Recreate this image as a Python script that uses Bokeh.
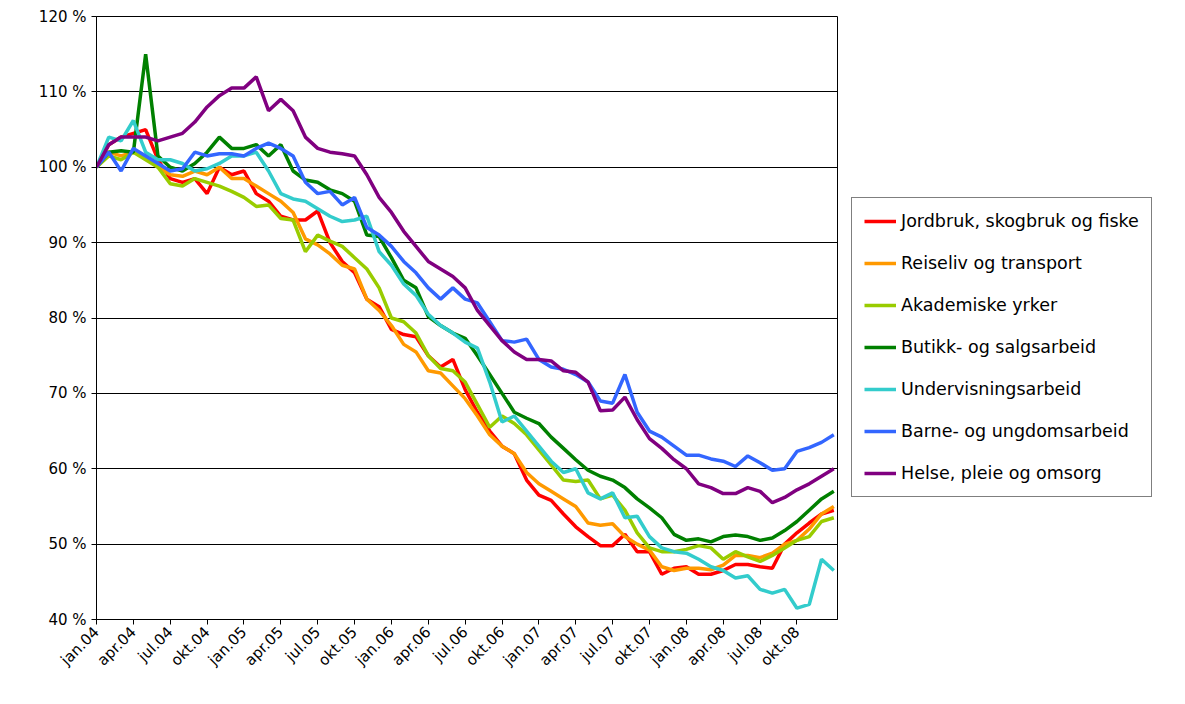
import math
from bokeh.plotting import figure
from bokeh.models import Legend, LegendItem, FixedTicker, PrintfTickFormatter
from bokeh.embed import file_html
from bokeh.resources import INLINE

months = list(range(61))
tick_labels = ["jan.04", "apr.04", "jul.04", "okt.04", "jan.05", "apr.05", "jul.05", "okt.05",
               "jan.06", "apr.06", "jul.06", "okt.06", "jan.07", "apr.07", "jul.07", "okt.07",
               "jan.08", "apr.08", "jul.08", "okt.08"]

jordbruk = [100, 103, 104, 104.5, 105, 101, 98.5, 98, 98.5, 96.5, 100, 99, 99.5, 96.5, 95.5, 93.5,
            93, 93, 94.2, 90, 87.5, 86, 82.5, 81.5, 78.5, 77.8, 77.5, 75, 73.5, 74.5, 70.5, 67.5,
            65, 63, 62, 58.5, 56.5, 55.8, 54, 52.3, 51, 49.8, 49.8, 51.3, 49, 49, 46, 46.8, 47,
            46, 46, 46.5, 47.3, 47.3, 47, 46.8, 50, 51.5, 52.8, 54, 54.5]
reiseliv = [100, 102, 101.5, 102, 101.5, 100, 99, 98.8, 99.5, 99, 100, 98.5, 98.5, 97.5, 96.5, 95.5,
            94, 90.5, 89.7, 88.5, 87, 86.5, 82.5, 81, 79, 76.5, 75.5, 73, 72.7, 71, 69.3, 67,
            64.5, 63, 62, 59.5, 58, 57, 56, 55, 52.8, 52.5, 52.7, 51, 50, 49.2, 47, 46.5, 46.8,
            46.8, 46.6, 47.2, 48.5, 48.5, 48.2, 48.8, 50, 50.5, 52, 54, 55]
akademiske = [100, 101.5, 101, 102, 101, 100, 97.8, 97.5, 98.5, 98, 97.5, 96.8, 96, 94.8, 95, 93.2,
              93, 88.8, 91, 90.2, 89.5, 88, 86.5, 84, 80, 79.5, 78, 75, 73.3, 73, 71.5, 68.5,
              65.5, 67, 66, 64.5, 62.5, 60.5, 58.5, 58.3, 58.5, 56, 56.5, 54.5, 51.5, 49.5, 49,
              49, 49.3, 49.8, 49.5, 48, 49, 48.3, 47.7, 48.5, 49.5, 50.5, 51, 53, 53.5]
butikk = [100, 102, 102.2, 102, 115, 101.5, 100, 99.5, 100.5, 102, 104, 102.5, 102.5, 103, 101.5, 103,
          99.5, 98.3, 98, 97, 96.5, 95.5, 91, 90.8, 88, 85, 84, 80.2, 79, 78, 77.3, 75,
          72.5, 70, 67.5, 66.7, 66, 64.2, 62.7, 61.2, 59.8, 59, 58.5, 57.5, 56, 54.8, 53.5,
          51.3, 50.5, 50.7, 50.3, 51, 51.2, 51, 50.5, 50.8, 51.8, 53, 54.5, 56, 57]
undervisning = [100, 104, 103.5, 106.2, 102, 101, 101, 100.5, 99.5, 99.8, 100.5, 101.5, 101.5, 102, 99.5, 96.5,
                95.8, 95.5, 94.5, 93.5, 92.8, 93, 93.5, 88.8, 87, 84.5, 83, 80.5, 79, 78, 76.8, 76,
                71.5, 66.2, 67, 65, 63, 61, 59.5, 60, 56.8, 56, 56.8, 53.5, 53.7, 51, 49.5, 49,
                48.8, 48, 47, 46.5, 45.5, 45.8, 44, 43.5, 44, 41.5, 42, 48, 46.5]
barne = [100, 102, 99.5, 102.5, 101.5, 100.5, 99.5, 99.8, 102, 101.5, 101.8, 101.8, 101.5, 102.5, 103.2, 102.5,
         101.5, 98, 96.5, 96.8, 95, 96, 92, 91, 89.5, 87.5, 86, 84, 82.5, 84, 82.5, 82,
         79.5, 77, 76.8, 77.2, 74.5, 73.5, 73.2, 72.5, 71.5, 69, 68.7, 72.5, 67.5, 65, 64.2,
         63, 61.8, 61.8, 61.3, 61, 60.3, 61.7, 60.8, 59.8, 60, 62.3, 62.8, 63.5, 64.5]
helse = [100, 103, 104, 104, 104, 103.5, 104, 104.5, 106, 108, 109.5, 110.5, 110.5, 112, 107.5, 109,
         107.5, 104, 102.5, 102, 101.8, 101.5, 99, 96, 94, 91.5, 89.5, 87.5, 86.5, 85.5, 84, 81,
         79, 77, 75.5, 74.5, 74.5, 74.3, 73, 72.8, 71.5, 67.7, 67.8, 69.5, 66.5, 64, 62.7,
         61.2, 60, 58, 57.5, 56.7, 56.7, 57.5, 57, 55.5, 56.2, 57.2, 58, 59, 60]

series = [
    ("Jordbruk, skogbruk og fiske", jordbruk, "#ff0000"),
    ("Reiseliv og transport", reiseliv, "#ff9900"),
    ("Akademiske yrker", akademiske, "#99cc00"),
    ("Butikk- og salgsarbeid", butikk, "#008000"),
    ("Undervisningsarbeid", undervisning, "#33cccc"),
    ("Barne- og ungdomsarbeid", barne, "#3366ff"),
    ("Helse, pleie og omsorg", helse, "#800080"),
]

p = figure(frame_width=741, frame_height=603, min_border_left=96, min_border_top=16,
           min_border_bottom=70, min_border_right=0,
           x_range=(0, 60.3), y_range=(40, 120),
           output_backend="svg", toolbar_location=None)
p.outline_line_color = "black"
p.xgrid.visible = False
p.ygrid.grid_line_color = "black"
p.ygrid.grid_line_width = 1

items = []
for name, vals, col in series:
    r = p.line(months, vals, line_color=col, line_width=3.5)
    items.append(LegendItem(label=name, renderers=[r]))

p.xaxis.ticker = FixedTicker(ticks=list(range(0, 60, 3)))
p.xaxis.major_label_overrides = {i * 3: t for i, t in enumerate(tick_labels)}
p.xaxis.major_label_orientation = math.pi / 4
p.yaxis.ticker = FixedTicker(ticks=list(range(40, 121, 10)))
p.yaxis.formatter = PrintfTickFormatter(format="%d %%")
for ax in (p.xaxis[0], p.yaxis[0]):
    ax.major_label_text_font = "DejaVu Sans"
    ax.major_label_text_font_size = "15px"
    ax.major_label_text_color = "black"
    ax.axis_line_color = "black"
    ax.major_tick_line_color = "black"
    ax.minor_tick_line_color = None
    ax.major_tick_out = 5
    ax.major_tick_in = 0

legend = Legend(items=items, location=(14, 122), border_line_color="black",
                label_text_font="DejaVu Sans", label_text_font_size="17.5px",
                label_text_color="black", label_height=22,
                glyph_width=32, spacing=20, padding=12, margin=0)
p.add_layout(legend, "right")

open("out.html", "w").write(file_html(p, INLINE))
